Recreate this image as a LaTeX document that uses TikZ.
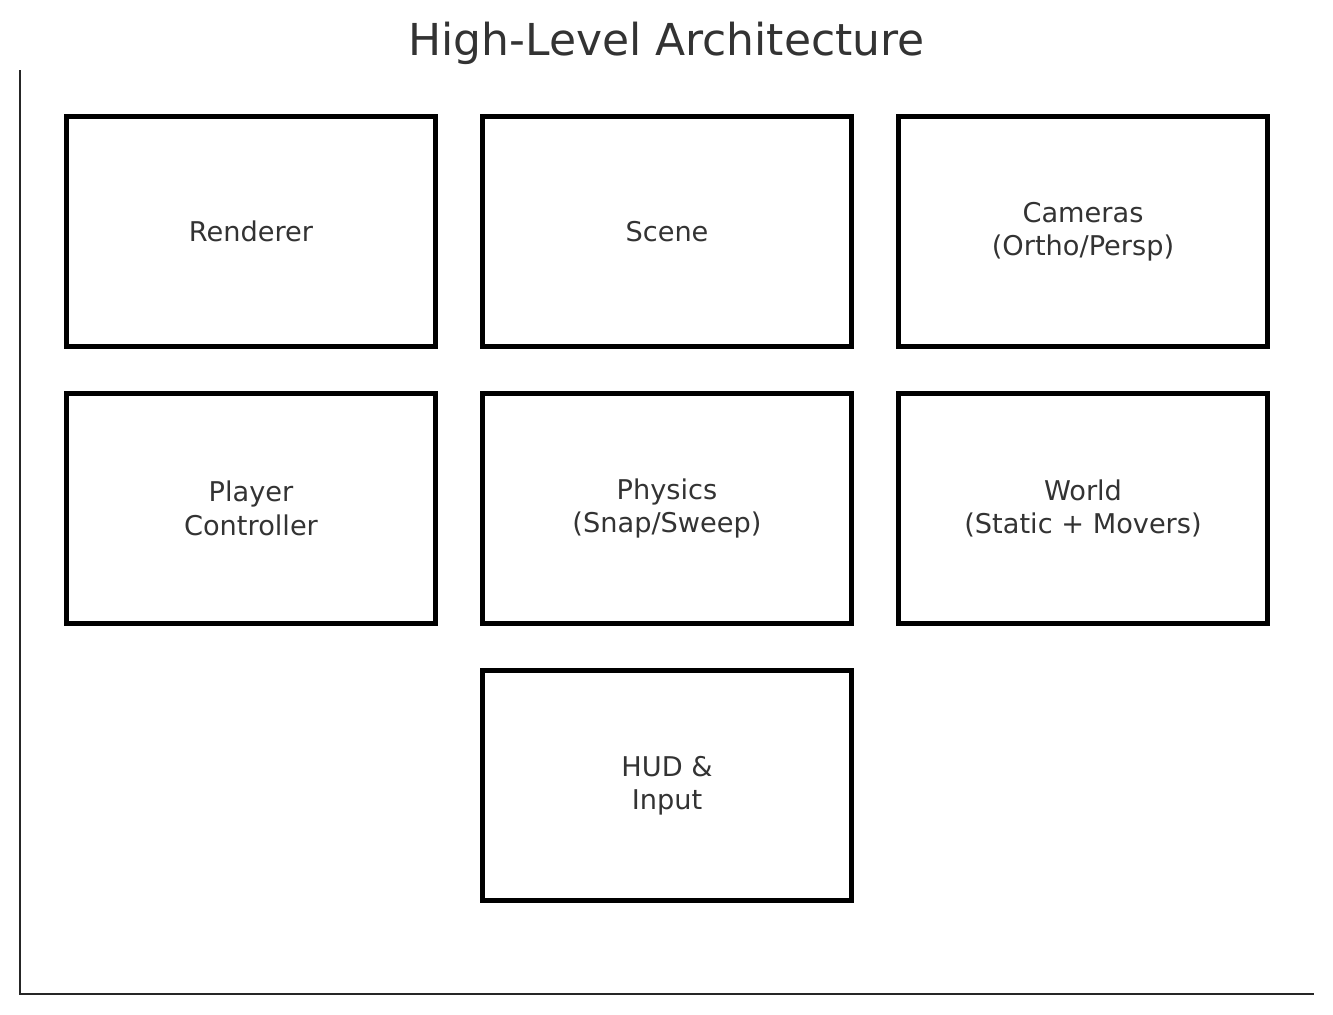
\documentclass[tikz,border=0pt]{standalone}
\usepackage{fontspec}
\setmainfont{DejaVu Sans}
\usepackage{xcolor}
\usepackage{tikz}
\usetikzlibrary{positioning}

\definecolor{ink}{HTML}{333333}
\definecolor{spine}{HTML}{262626}

\begin{document}
\begin{tikzpicture}[
    x=0.5pt, y=-0.5pt,
    node distance=21pt and 21pt,
    block/.style={draw=black, line width=2.5pt, minimum width=184.5pt, minimum height=115pt, align=center, text=ink, font=\fontsize{13.6}{16.75}\selectfont},
    axisline/.style={draw=spine, line width=1pt}
]
\useasboundingbox (0,0) rectangle (1333,1014);

\node[anchor=base, text=ink, font=\fontsize{22}{26}\selectfont] (title) at (666.5,55) {High-Level Architecture};

% axes spines
\coordinate (top) at (20,70);
\coordinate (origin) at (20,994);
\coordinate (right) at (1314,994);
\draw[axisline] (top) -- (origin) -- (right);

% top row
\node[block] (renderer) at (251,231.5) {Renderer};
\node[block, right=of renderer] (scene) {Scene};
\node[block, right=of scene] (cameras) {Cameras\\(Ortho/Persp)};

% middle row
\node[block, below=of renderer] (player) {Player\\Controller};
\node[block, below=of scene] (physics) {Physics\\(Snap/Sweep)};
\node[block, below=of cameras] (world) {World\\(Static + Movers)};

% bottom row
\node[block, below=of physics] (hud) {HUD \&\\Input};
\end{tikzpicture}
\end{document}
